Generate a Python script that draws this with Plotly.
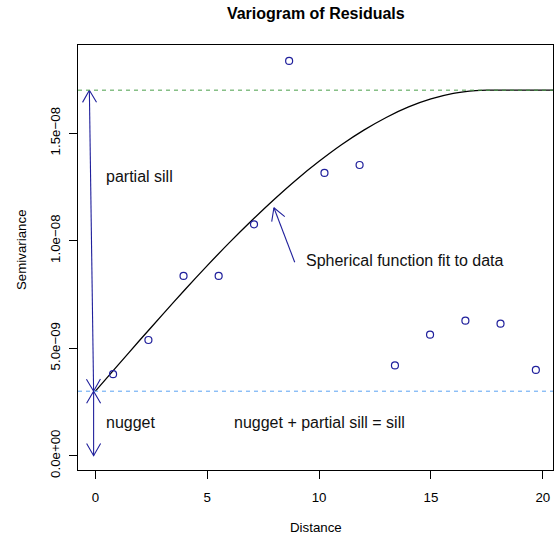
import plotly.graph_objects as go
import math

# ---- data ----
lag_dist = [0.79, 2.37, 3.94, 5.51, 7.09, 8.66, 10.24, 11.81, 13.39, 14.96, 16.54, 18.11, 19.69]
semivar = [3.79e-9, 5.38e-9, 8.36e-9, 8.36e-9, 10.76e-9, 18.36e-9, 13.15e-9, 13.52e-9,
           4.20e-9, 5.63e-9, 6.28e-9, 6.14e-9, 3.99e-9]

# fitted spherical model line
curve_x = [0, 1, 2, 3, 4, 5, 6, 7, 8, 9, 10, 11, 12, 13, 14, 15, 16, 17, 17.5, 18, 19, 20, 21]
curve_y = [3.00e-9, 4.20e-9, 5.39e-9, 6.56e-9, 7.72e-9, 8.84e-9, 9.92e-9, 10.95e-9, 11.93e-9,
           12.85e-9, 13.69e-9, 14.46e-9, 15.14e-9, 15.73e-9, 16.22e-9, 16.59e-9, 16.85e-9,
           16.98e-9, 17.0e-9, 17.0e-9, 17.0e-9, 17.0e-9, 17.0e-9]

nugget = 3.0e-9
sill = 17.0e-9

x_ticks = [0, 5, 10, 15, 20]
y_ticks = [0, 5e-9, 1e-8, 1.5e-8]
y_tick_text = ["0.0e+00", "5.0e\u221209", "1.0e\u221208", "1.5e\u221208"]

# arrows: (tail_x, tail_y, tip_x, tip_y, double_headed)
arrows = [
    (-0.08, 3.0e-9, -0.27, 17.0e-9, True),   # partial sill
    (-0.08, 3.0e-9, -0.08, 0.0, True),       # nugget
    (8.91, 9.0e-9, 7.98, 11.53e-9, False),   # spherical fit pointer
]

labels = [
    ("partial sill", 0.38, 13.0e-9, "left"),
    ("nugget", 0.38, 1.55e-9, "left"),
    ("nugget + partial sill = sill", 10.0, 1.55e-9, "center"),
    ("Spherical function fit to data", 9.33, 9.07e-9, "left"),
]

# ---- layout geometry ----
W, H = 558, 540
ML, MR, MT, MB = 78, 5, 45, 70
PW, PH = W - ML - MR, H - MT - MB
x_range = [-0.778, 20.456]
y_range = [-0.665e-9, 19.10e-9]
px_per_x = PW / (x_range[1] - x_range[0])
px_per_y = PH / (y_range[1] - y_range[0])

FONT = "Liberation Sans, Arial, Helvetica, sans-serif"
BLUE = "#20209c"
BASE = 13.3

fig = go.Figure()

# reference lines
fig.add_shape(type="line", xref="paper", x0=0, x1=1, yref="y", y0=sill, y1=sill,
              line=dict(color="#4a9e4a", width=1, dash="4px,4px"))
fig.add_shape(type="line", xref="paper", x0=0, x1=1, yref="y", y0=nugget, y1=nugget,
              line=dict(color="#5aa2f2", width=1, dash="4px,4px"))

# model curve
fig.add_trace(go.Scatter(x=curve_x, y=curve_y, mode="lines", line=dict(color="black", width=1.3,
              shape="spline", smoothing=0.6), hoverinfo="skip", showlegend=False))

# points
fig.add_trace(go.Scatter(x=lag_dist, y=semivar, mode="markers",
              marker=dict(symbol="circle-open", size=7, color=BLUE, line=dict(width=1.2, color=BLUE)),
              showlegend=False))


def head(tx, ty, fx, fy, length=14, ang=30):
    # direction from tip back toward tail in pixel space
    dxp = (fx - tx) * px_per_x
    dyp = -(fy - ty) * px_per_y
    n = math.hypot(dxp, dyp)
    ux, uy = dxp / n, dyp / n
    pts = []
    for s in (1, -1):
        a = math.radians(ang) * s
        rx = ux * math.cos(a) - uy * math.sin(a)
        ry = ux * math.sin(a) + uy * math.cos(a)
        pts.append((tx + rx * length / px_per_x, ty - ry * length / px_per_y))
    return pts


ax, ay = [], []
for (x0, y0, x1, y1, dbl) in arrows:
    ax += [x0, x1, None]
    ay += [y0, y1, None]
    b1, b2 = head(x1, y1, x0, y0)
    ax += [b1[0], x1, b2[0], None]
    ay += [b1[1], y1, b2[1], None]
    if dbl:
        b1, b2 = head(x0, y0, x1, y1)
        ax += [b1[0], x0, b2[0], None]
        ay += [b1[1], y0, b2[1], None]
fig.add_trace(go.Scatter(x=ax, y=ay, mode="lines", line=dict(color=BLUE, width=1.1),
              hoverinfo="skip", showlegend=False))

for text, x, y, anchor in labels:
    fig.add_annotation(x=x, y=y, text=text, showarrow=False, xanchor=anchor, yanchor="middle",
                       font=dict(family=FONT, size=16, color="#111111"))

# axis titles as annotations
fig.add_annotation(xref="paper", yref="paper", x=(315.8 - ML) / PW, y=(H - MB - 527) / PH,
                   text="Distance", showarrow=False, xanchor="center", yanchor="middle",
                   font=dict(family=FONT, size=BASE, color="black"))
fig.add_annotation(xref="paper", yref="paper", x=(22 - ML) / PW, y=(H - MB - 250) / PH,
                   text="Semivariance", showarrow=False, textangle=-90, xanchor="center",
                   yanchor="middle", font=dict(family=FONT, size=BASE, color="black"))

fig.update_layout(
    width=W, height=H,
    margin=dict(l=ML, r=MR, t=MT, b=MB),
    paper_bgcolor="white", plot_bgcolor="white",
    title=dict(text="<b>Variogram of Residuals</b>", x=315.8 / W, xanchor="center",
               y=1 - 13 / H, yanchor="middle", yref="container",
               font=dict(family=FONT, size=16, color="black")),
    font=dict(family=FONT, size=BASE, color="black"),
    showlegend=False,
)
fig.update_xaxes(range=x_range, tickvals=x_ticks, ticktext=[str(v) for v in x_ticks],
                 showgrid=False, zeroline=False, showline=True, mirror=True, linecolor="black",
                 linewidth=1, ticks="outside", ticklen=8, tickcolor="black", tickwidth=1,
                 ticklabelstandoff=7, tickfont=dict(family=FONT, size=BASE, color="black"))
fig.update_yaxes(range=y_range, tickvals=y_ticks, ticktext=y_tick_text, tickangle=-90,
                 showgrid=False, zeroline=False, showline=True, mirror=True, linecolor="black",
                 linewidth=1, ticks="outside", ticklen=8, tickcolor="black", tickwidth=1,
                 ticklabelstandoff=4, tickfont=dict(family=FONT, size=BASE, color="black"))

fig.write_html("out.html")
